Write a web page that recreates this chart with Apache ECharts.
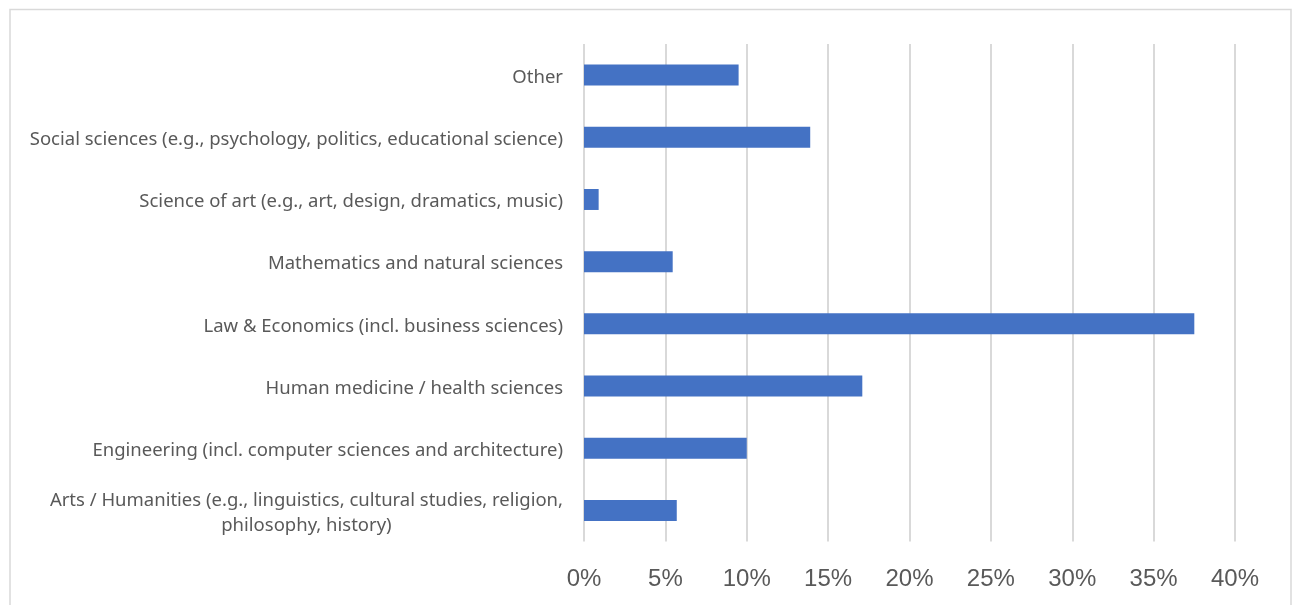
<!DOCTYPE html>
<html>
<head>
<meta charset="utf-8">
<script src="https://cdn.jsdelivr.net/npm/echarts@6/dist/echarts.min.js"></script>
<style>
  html, body { margin: 0; padding: 0; background: #fff; }
  #chart { width: 1295px; height: 605px; }
</style>
</head>
<body>
<div id="chart"></div>
<script>
// Fields of study, listed top to bottom
const categories = [
  'Other',
  'Social sciences (e.g., psychology, politics, educational science)',
  'Science of art (e.g., art, design, dramatics, music)',
  'Mathematics and natural sciences',
  'Law & Economics (incl. business sciences)',
  'Human medicine / health sciences',
  'Engineering (incl. computer sciences and architecture)',
  'Arts / Humanities (e.g., linguistics, cultural studies, religion,\nphilosophy, history)'
];
// Share of respondents, in percent
const shares = [9.5, 13.9, 0.9, 5.45, 37.5, 17.1, 10.0, 5.7];
// Value axis ticks, in percent
const tickMin = 0;
const tickMax = 40;
const tickStep = 5;

const chart = echarts.init(document.getElementById('chart'), null, { renderer: 'canvas' });

chart.setOption({
  animation: false,
  backgroundColor: '#ffffff',
  graphic: [{
    type: 'rect',
    shape: { x: 10, y: 9.5, width: 1281, height: 640 },
    style: { fill: 'none', stroke: '#d9d9d9', lineWidth: 1.5 },
    silent: true
  }],
  grid: { left: 584, right: 60, top: 44, bottom: 63.5, containLabel: false },
  xAxis: {
    type: 'value',
    min: tickMin,
    max: tickMax,
    interval: tickStep,
    axisLine: { show: false },
    axisTick: { show: false },
    splitLine: { show: true, lineStyle: { color: '#d9d9d9', width: 2 } },
    axisLabel: {
      formatter: v => v + '%',
      fontFamily: 'Liberation Sans, Arial, sans-serif',
      fontSize: 24,
      color: '#595959',
      margin: 26
    }
  },
  yAxis: {
    type: 'category',
    inverse: true,
    data: categories,
    axisLine: { show: false },
    axisTick: { show: false },
    splitLine: { show: false },
    axisLabel: {
      margin: 21,
      fontFamily: 'Noto Sans, sans-serif',
      fontSize: 18.5,
      color: '#595959',
      lineHeight: 25,
      padding: [5, 0, 0, 0],
      formatter: v => v.split('\n').map(s => '{c|' + s + '}').join('\n'),
      rich: {
        c: {
          align: 'center',
          fontFamily: 'Noto Sans, sans-serif',
          fontSize: 18.5,
          color: '#595959',
          lineHeight: 25
        }
      }
    }
  },
  series: [{
    type: 'bar',
    data: shares,
    barWidth: 21,
    itemStyle: { color: '#4472c4' },
    silent: true
  }]
});
</script>
</body>
</html>
